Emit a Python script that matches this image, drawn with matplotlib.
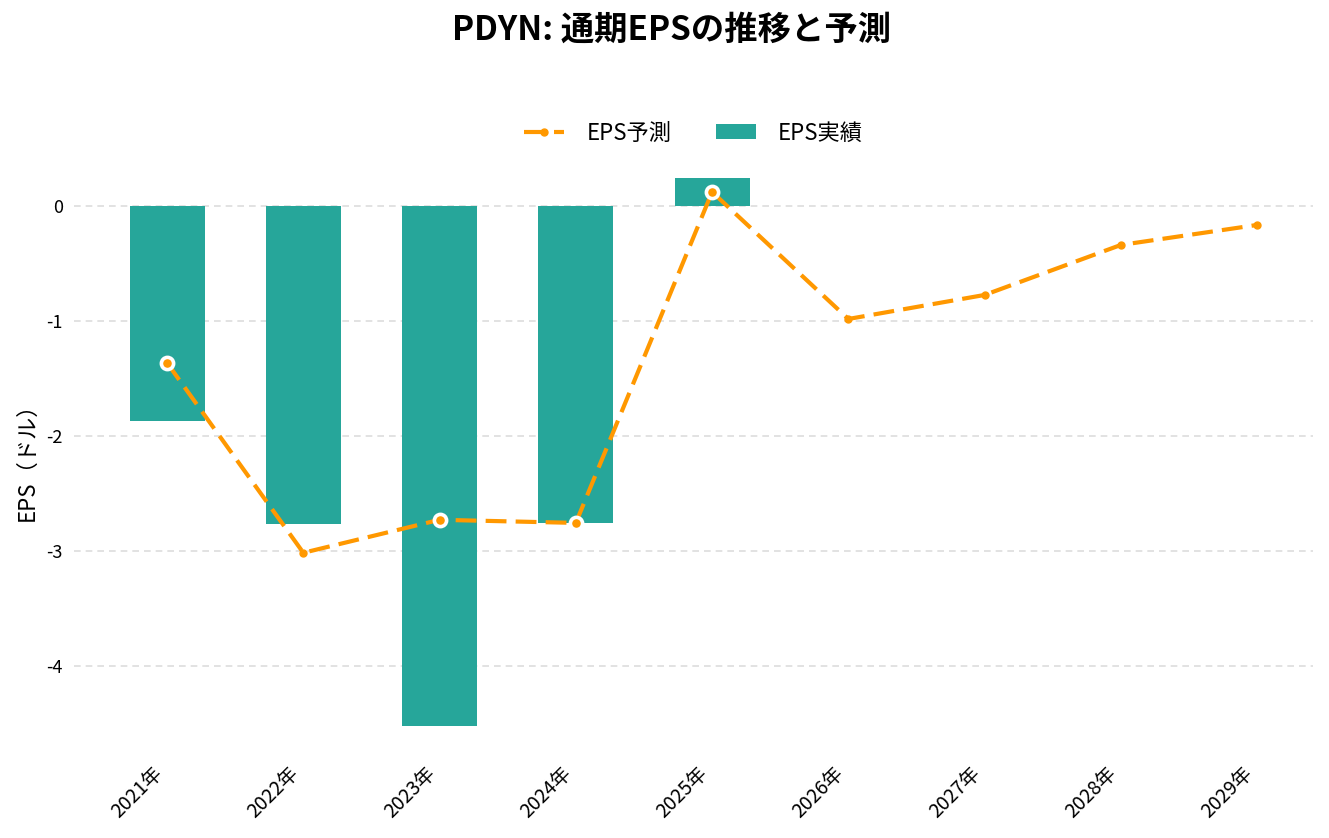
import matplotlib
matplotlib.use("Agg")
import matplotlib.pyplot as plt
import numpy as np

plt.rcParams['font.family'] = ['Noto Sans CJK JP', 'DejaVu Sans']
plt.rcParams['axes.unicode_minus'] = False

years = ["2021年", "2022年", "2023年", "2024年", "2025年", "2026年", "2027年", "2028年", "2029年"]
eps_actual = [-1.87, -2.765, -4.52, -2.757, 0.243]
eps_forecast = [-1.365, -3.017, -2.73, -2.757, 0.122, -0.983, -0.774, -0.339, -0.165]
highlight = [True, False, True, True, True, False, False, False, False]

BAR_C = "#26A69A"
LINE_C = "#FF9800"

fig = plt.figure(figsize=(13.29, 8.38), dpi=100)
W, H = 1329, 838
ax = fig.add_axes([74 / W, (H - 752) / H, (1313 - 74) / W, (752 - 160) / H])

x = np.arange(len(years))
xa = x[:len(eps_actual)]
bars = ax.bar(xa, eps_actual, width=0.55, color=BAR_C, label="EPS実績", zorder=2)
line, = ax.plot(x, eps_forecast, color=LINE_C, lw=3, dashes=(5, 2.2), marker='o', markersize=5,
                label="EPS予測", zorder=3)
hx = [xi for xi, h in zip(x, highlight) if h]
hy = [v for v, h in zip(eps_forecast, highlight) if h]
ax.plot(hx, hy, linestyle='none', marker='o', markersize=8.8, markerfacecolor=LINE_C,
        markeredgecolor='white', markeredgewidth=2.6, zorder=4)

ax.set_xlim(-0.683, 8.41)
ax.set_ylim(-4.75, 0.4)
ax.set_yticks([0, -1, -2, -3, -4])
ax.set_yticklabels(["0", "-1", "-2", "-3", "-4"], fontsize=13)
ax.set_xticks(x)
ax.set_xticklabels(years, rotation=45, ha='right', fontsize=14)
ax.tick_params(axis='both', length=0)
ax.tick_params(axis='x', pad=8)
ax.tick_params(axis='y', pad=8)
ax.grid(axis='y', color='#dddddd', linestyle='--', linewidth=1.2, dashes=(4, 3), zorder=0)
for s in ax.spines.values():
    s.set_visible(False)
ax.set_ylabel("EPS（ドル）", fontsize=16, labelpad=6)

leg = ax.legend([line, bars], ["EPS予測", "EPS実績"], loc='center',
                bbox_to_anchor=(0.5, (838 - 133 - 86) / 592),
                ncol=2, frameon=False, fontsize=16, handlelength=1.8,
                handletextpad=1.0, columnspacing=2.0)

fig.text(672 / W, 1 - 30 / H, "PDYN: 通期EPSの推移と予測", ha='center', va='center',
         fontsize=24, fontweight='bold')

fig.savefig("out.png", dpi=100)
